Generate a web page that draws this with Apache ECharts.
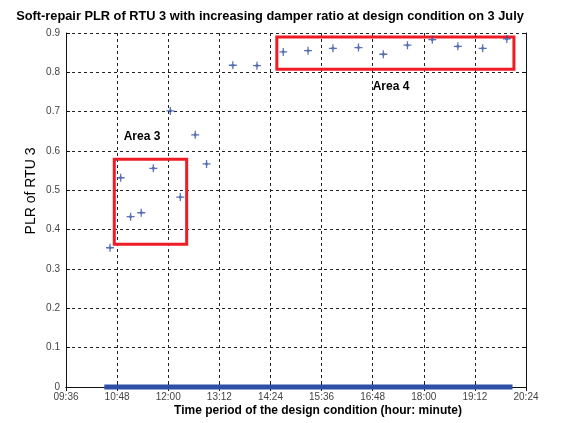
<!DOCTYPE html>
<html>
<head>
<meta charset="utf-8">
<script src="https://cdn.jsdelivr.net/npm/echarts@6/dist/echarts.min.js"></script>
<style>
html,body{margin:0;padding:0;background:#fff;}
#chart{width:564px;height:423px;}
</style>
</head>
<body>
<div id="chart"></div>
<script>
// ---- data ----
var times = ['10:38','10:53','11:07','11:22','11:39','12:03','12:17','12:38','12:54','13:31','14:05',
             '14:42','15:17','15:52','16:28','17:03','17:37','18:12','18:48','19:23','19:57'];
var plr = [0.354,0.532,0.433,0.443,0.556,0.702,0.483,0.641,0.567,0.818,0.817,
           0.852,0.855,0.861,0.863,0.846,0.869,0.883,0.866,0.861,0.885];
// run of zero-PLR samples along the bottom axis
var zeroRun = ['10:30','20:05'];
// annotation boxes: [startTime, endTime, lowPLR, highPLR]
var area3 = ['10:44','12:26',0.363,0.579];
var area4 = ['14:33','20:07',0.808,0.890];
var xTicks = ['09:36','20:24'];
var xStep = 72; // minutes
var yTicks = [0,0.9,0.1];

function toMin(s){var p=s.split(':');return (+p[0])*60+(+p[1]);}
function fmt(v){var h=Math.floor(v/60),m=Math.round(v%60);return (h<10?'0':'')+h+':'+(m<10?'0':'')+m;}

var pts = times.map(function(t,i){return [toMin(t),plr[i]];});
var zeroPts = zeroRun.map(function(t){return [toMin(t),0];});

var blue = '#2f4fa5';
// asterisk-like marker: plus with a thicker centre
var starPath = 'path://M4.2,0H5.8V3.4H6.6V4.2H10V5.8H6.6V6.6H5.8V10H4.2V6.6H3.4V5.8H0V4.2H3.4V3.4H4.2Z';

var chart = echarts.init(document.getElementById('chart'));
var axisCommonX = {
  type:'value', min:toMin(xTicks[0]), max:toMin(xTicks[1]), interval:xStep
};
chart.setOption({
  animation:false,
  backgroundColor:'#fff',
  title:{
    text:'Soft-repair PLR of RTU 3 with increasing damper ratio at design condition on 3 July',
    left:265, top:5, textAlign:'center',
    textStyle:{fontFamily:'Liberation Sans',fontSize:12.8,fontWeight:'bold',color:'#000'}
  },
  grid:{left:66,right:38,top:33,bottom:36},
  xAxis:[
    Object.assign({},axisCommonX,{
      position:'bottom',
      axisLine:{lineStyle:{color:'#111',width:1}},
      axisTick:{inside:true,length:4,lineStyle:{color:'#111'}},
      axisLabel:{formatter:fmt,fontFamily:'Liberation Sans',fontSize:10,color:'#444',margin:5},
      splitLine:{show:true,lineStyle:{color:'#222',type:[3,3],width:1}}
    }),
    Object.assign({},axisCommonX,{
      position:'top',
      axisLine:{lineStyle:{color:'#111',width:1}},
      axisTick:{inside:true,length:4,lineStyle:{color:'#111'}},
      axisLabel:{show:false},
      splitLine:{show:false}
    })
  ],
  yAxis:[
    {
      type:'value',min:yTicks[0],max:yTicks[1],interval:yTicks[2],position:'left',
      axisLine:{show:true,lineStyle:{color:'#111',width:1}},
      axisTick:{show:true,inside:true,length:4,lineStyle:{color:'#111'}},
      axisLabel:{formatter:function(v){return v===0?'0':v.toFixed(1);},fontFamily:'Liberation Sans',fontSize:10,color:'#444',margin:6},
      splitLine:{show:true,lineStyle:{color:'#222',type:[3,3],width:1}}
    },
    {
      type:'value',min:yTicks[0],max:yTicks[1],interval:yTicks[2],position:'right',
      axisLine:{show:true,lineStyle:{color:'#111',width:1}},
      axisTick:{show:true,inside:true,length:4,lineStyle:{color:'#111'}},
      axisLabel:{show:false},
      splitLine:{show:false}
    }
  ],
  graphic:[
    {type:'text',x:31,y:191,rotation:Math.PI/2,
     style:{text:'PLR of RTU 3',font:'14px "Liberation Sans"',fill:'#000',align:'center',verticalAlign:'middle'}},
    {type:'text',x:318,y:411,
     style:{text:'Time period of the design condition (hour: minute)',font:'bold 12px "Liberation Sans"',fill:'#000',align:'center',verticalAlign:'middle'}},
    {type:'text',x:142,y:137,
     style:{text:'Area 3',font:'bold 12px "Liberation Sans"',fill:'#000',align:'center',verticalAlign:'middle'}},
    {type:'text',x:391,y:87,
     style:{text:'Area 4',font:'bold 12px "Liberation Sans"',fill:'#000',align:'center',verticalAlign:'middle'}}
  ],
  series:[
    {
      type:'line', data:zeroPts, symbol:'none', clip:false, z:3,
      lineStyle:{color:blue,width:5}
    },
    {
      type:'scatter', data:pts, symbol:starPath, symbolSize:8, z:4,
      itemStyle:{color:blue},
      markArea:{
        silent:true,
        itemStyle:{color:'rgba(0,0,0,0)',borderColor:'#ee1c25',borderWidth:3},
        data:[
          [{coord:[toMin(area3[0]),area3[3]]},{coord:[toMin(area3[1]),area3[2]]}],
          [{coord:[toMin(area4[0]),area4[3]]},{coord:[toMin(area4[1]),area4[2]]}]
        ]
      }
    }
  ]
});
</script>
</body>
</html>
